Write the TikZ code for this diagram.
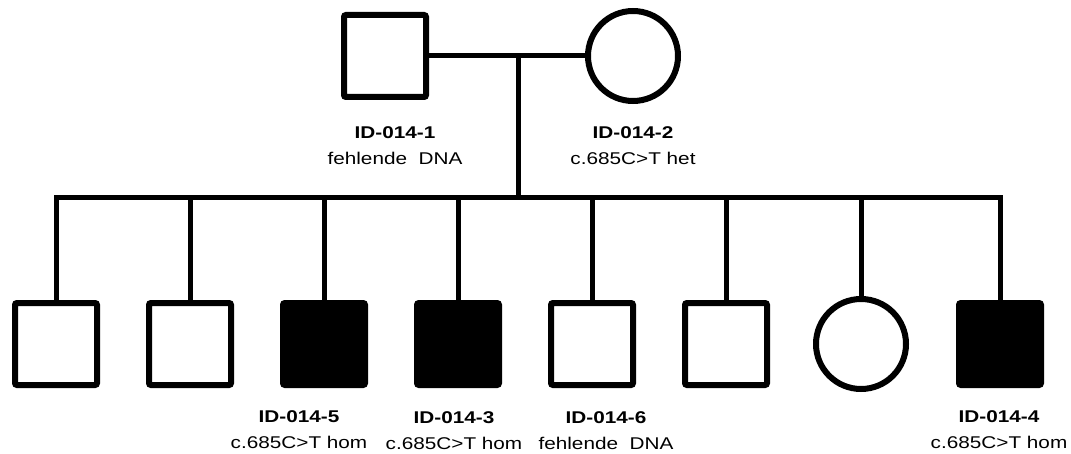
\documentclass[tikz,border=0pt]{standalone}
\usepackage{fontspec}
\setmainfont{Liberation Sans}[FakeStretch=1.22]
\usetikzlibrary{positioning}

\begin{document}
\begin{tikzpicture}[x=1pt, y=1pt, node distance=52pt,
  male/.style={rectangle, draw=black, line width=6pt, rounded corners=2pt, minimum size=82pt, inner sep=0pt, outer sep=0pt, fill=white},
  female/.style={circle, draw=black, line width=6pt, minimum size=90pt, inner sep=0pt, outer sep=0pt, fill=white},
  affected/.style={fill=black},
  info/.style={align=center, inner sep=0pt, font=\fontsize{17}{26.5}\selectfont},
  line/.style={draw, line width=5pt}]
  \useasboundingbox (0,0) rectangle (1071,453);

  % parents
  \node [male] (father) at (385,397) {};
  \node [female, right=162pt of father] (mother) {};
  \node [info, below=29pt of father, xshift=10pt] (idf) {\textbf{ID-014-1}\\fehlende\ \ DNA};
  \node [info, below=25pt of mother] (idm) {\textbf{ID-014-2}\\c.685C>T het};

  % children
  \node [male] (c1) at (56,109) {};
  \node [male, right=of c1] (c2) {};
  \node [male, affected, right=of c2] (c3) {};
  \node [male, affected, right=of c3] (c4) {};
  \node [male, right=of c4] (c5) {};
  \node [male, right=of c5] (c6) {};
  \node [female, right=49pt of c6] (c7) {};
  \node [male, affected, right=53pt of c7] (c8) {};

  \node [info, below=25pt of c3, xshift=-25pt] (id5) {\textbf{ID-014-5}\\c.685C>T hom};
  \node [info, below=26pt of c4, xshift=-4pt] (id3) {\textbf{ID-014-3}\\c.685C>T hom};
  \node [info, below=26pt of c5, xshift=14pt] (id6) {\textbf{ID-014-6}\\fehlende\ \ DNA};
  \node [info, below=25pt of c8, xshift=-1pt] (id4) {\textbf{ID-014-4}\\c.685C>T hom};

  % lines
  \coordinate (drop) at (518,397);
  \coordinate (sib) at (518,255);
  \path [line] (father) -- (mother);
  \path [line] (drop) -- (sib);
  \path [line] (c1.north) |- (sib) -| (c8.north);
  \path [line] (c2.north) -- (c2 |- sib);
  \path [line] (c3.north) -- (c3 |- sib);
  \path [line] (c4.north) -- (c4 |- sib);
  \path [line] (c5.north) -- (c5 |- sib);
  \path [line] (c6.north) -- (c6 |- sib);
  \path [line] (c7.north) -- (c7 |- sib);
\end{tikzpicture}
\end{document}
